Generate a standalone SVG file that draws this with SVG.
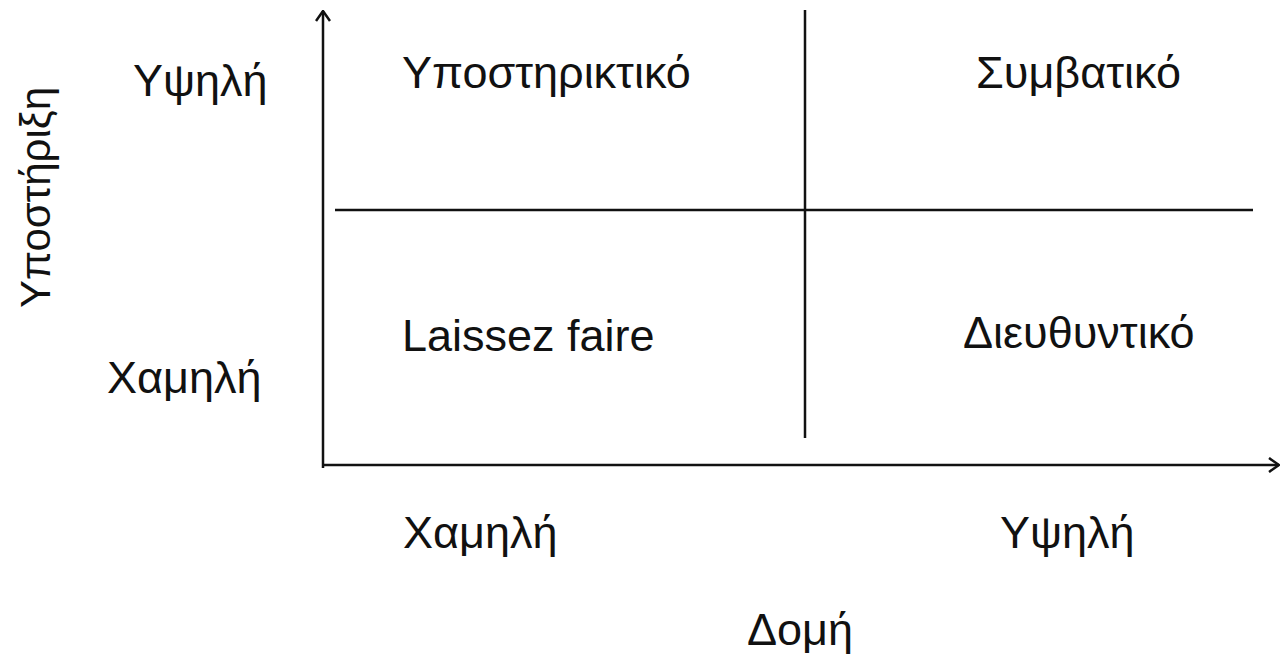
<svg xmlns="http://www.w3.org/2000/svg" width="1281" height="656" viewBox="0 0 1281 656">
<style>
text{font-family:"Liberation Sans",Arial,sans-serif;font-size:45px;fill:#111}
.ln{stroke:#111;stroke-width:2.5;fill:none}
</style>
<defs>
<marker id="arr" viewBox="0 0 12 16" refX="11" refY="8" markerWidth="12" markerHeight="16" markerUnits="userSpaceOnUse" orient="auto">
<path d="M1,1 L11,8 L1,15" fill="none" stroke="#111" stroke-width="2.5"/>
</marker>
</defs>
<rect width="1281" height="656" fill="#fff"/>
<g id="connectors">
<line class="ln" x1="323" y1="468" x2="323" y2="11" marker-end="url(#arr)"/>
<line class="ln" x1="322" y1="465" x2="1279" y2="465" marker-end="url(#arr)"/>
<line class="ln" x1="805" y1="10" x2="805" y2="438"/>
<line class="ln" x1="335" y1="210" x2="1253" y2="210"/>
</g>
<g id="label-ypostirixi"><text transform="translate(50,308) rotate(-90)" style="font-size:43px" textLength="221" lengthAdjust="spacingAndGlyphs">Υποστήριξη</text></g>
<g id="label-y-high"><text x="133" y="96">Υψηλή</text></g>
<g id="label-y-low"><text x="107" y="393">Χαμηλή</text></g>
<g id="quad-ypostiriktiko"><text x="402" y="88">Υποστηρικτικό</text></g>
<g id="quad-symvatiko"><text x="976" y="88">Συμβατικό</text></g>
<g id="quad-laissez"><text x="402" y="351">Laissez faire</text></g>
<g id="quad-dieythyntiko"><text x="963" y="348">Διευθυντικό</text></g>
<g id="label-x-low"><text x="403" y="548">Χαμηλή</text></g>
<g id="label-x-high"><text x="1000" y="548">Υψηλή</text></g>
<g id="label-domi"><text x="747" y="645">Δομή</text></g>
</svg>
